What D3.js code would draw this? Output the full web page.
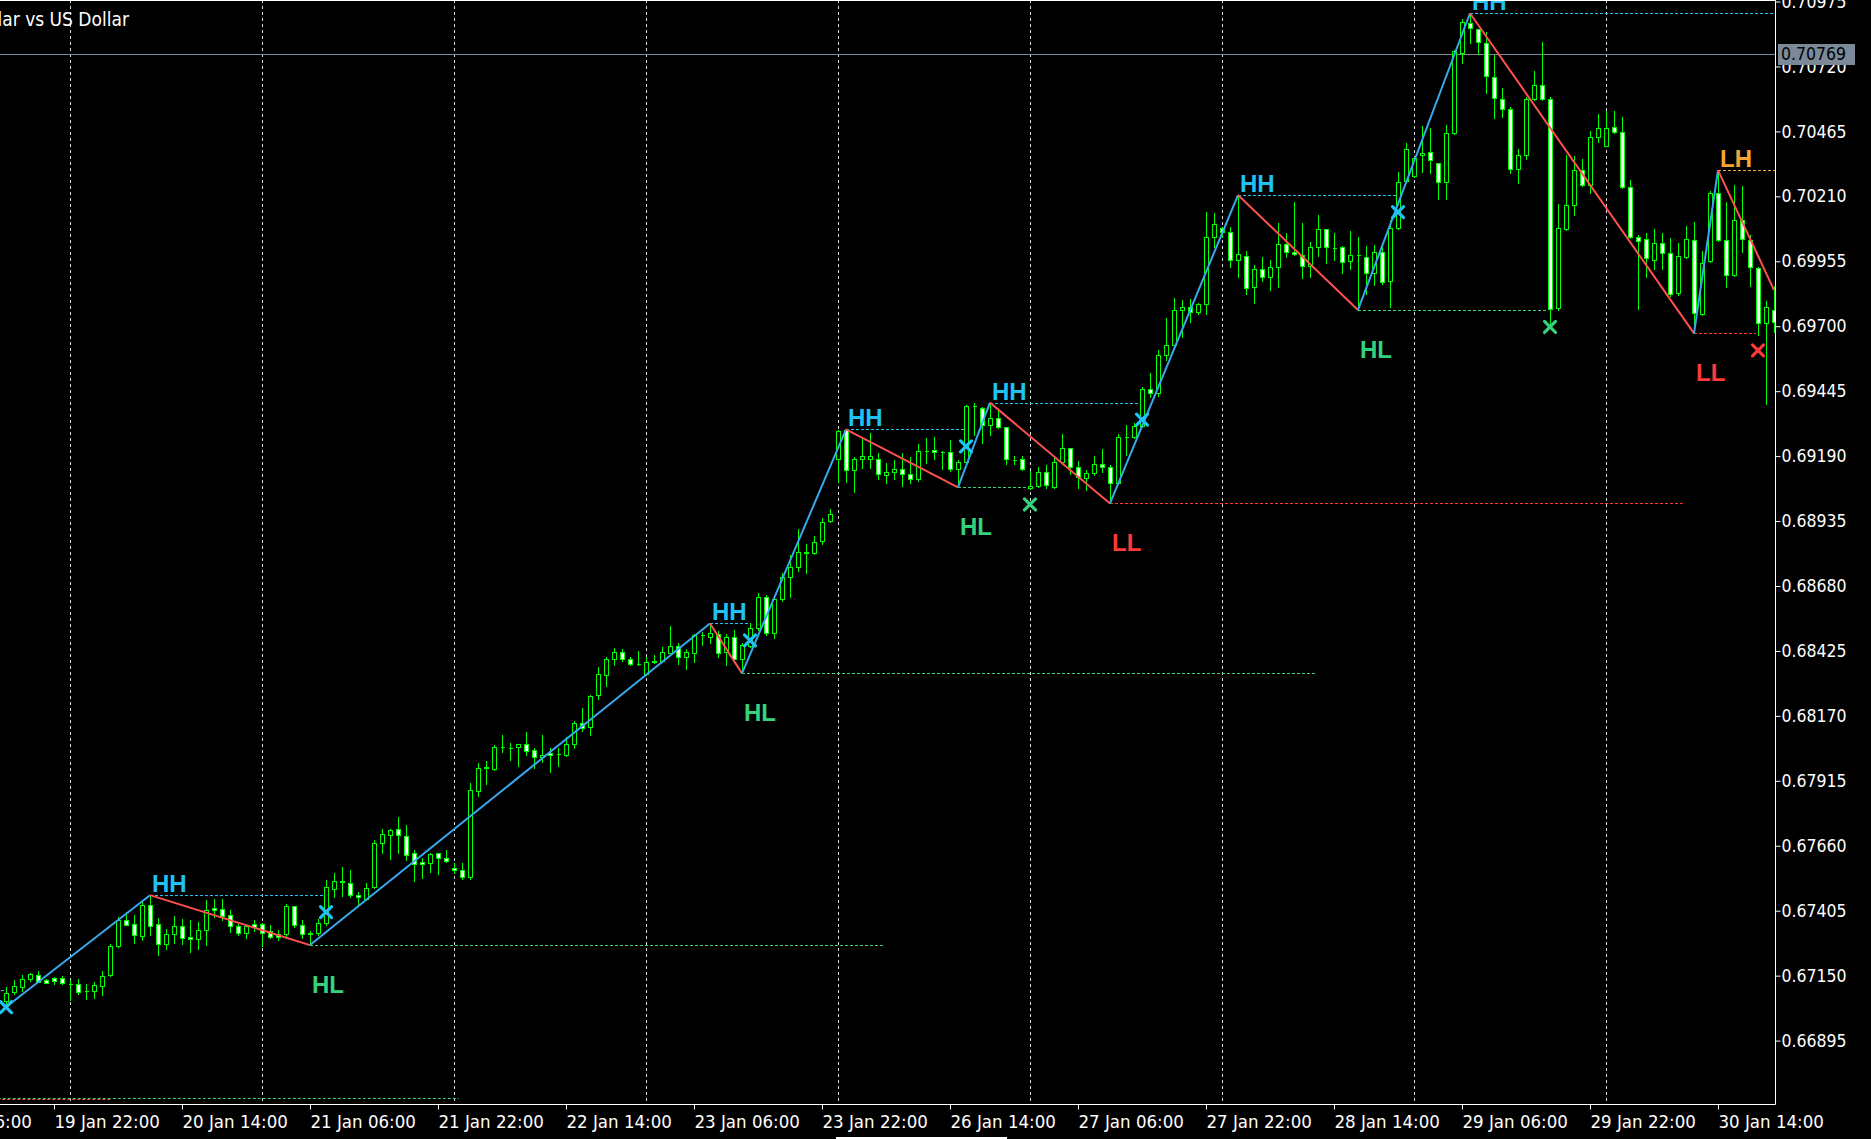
<!DOCTYPE html>
<html><head><meta charset="utf-8">
<script src="https://cdn.jsdelivr.net/npm/d3@7"></script>
<style>html,body{margin:0;padding:0;background:#000;overflow:hidden}</style>
</head><body>
<svg id="chart" width="1871" height="1139"></svg>
<script>
const titleText = "Australian Dollar vs US Dollar";
const firstBar = "2026-01-19T16:00:00Z";   // H1 bars
const opens = [
0.67051,0.67086,0.67106,0.67137,0.67153,0.67134,0.67142,0.67142,0.67117,0.67116,
0.67091,0.67090,0.67111,0.67153,0.67268,0.67370,0.67354,0.67307,0.67429,0.67354,
0.67276,0.67315,0.67346,0.67303,0.67294,0.67331,0.67417,0.67413,0.67390,0.67343,
0.67319,0.67354,0.67354,0.67327,0.67315,0.67315,0.67422,0.67350,0.67317,0.67316,
0.67355,0.67491,0.67519,0.67512,0.67465,0.67451,0.67497,0.67669,0.67701,0.67724,
0.67697,0.67630,0.67595,0.67593,0.67630,0.67610,0.67572,0.67563,0.67538,0.67876,
0.67966,0.67960,0.68048,0.68044,0.68046,0.68058,0.68035,0.68007,0.68023,0.68021,
0.68015,0.68058,0.68141,0.68125,0.68251,0.68329,0.68392,0.68419,0.68392,0.68374,
0.68334,0.68380,0.68385,0.68418,0.68443,0.68402,0.68418,0.68486,0.68481,0.68491,
0.68422,0.68478,0.68392,0.68446,0.68514,0.68638,0.68494,0.68630,0.68717,0.68756,
0.68815,0.68808,0.68858,0.68934,0.69177,0.69293,0.69136,0.69180,0.69180,0.69177,
0.69117,0.69126,0.69138,0.69118,0.69101,0.69209,0.69214,0.69207,0.69205,0.69140,
0.69167,0.69387,0.69377,0.69311,0.69338,0.69303,0.69176,0.69177,0.69063,0.69074,
0.69126,0.69070,0.69165,0.69220,0.69146,0.69106,0.69122,0.69161,0.69148,0.69083,
0.69266,0.69264,0.69308,0.69452,0.69436,0.69587,0.69626,0.69764,0.69777,0.69757,
0.69787,0.70049,0.70087,0.70069,0.69960,0.69977,0.69853,0.69926,0.69894,0.69931,
0.70021,0.69990,0.69978,0.69938,0.70012,0.70080,0.70009,0.70012,0.69955,0.69980,
0.69973,0.69908,0.69993,0.69877,0.70084,0.70272,0.70291,0.70372,0.70385,0.70340,
0.70268,0.70457,0.70774,0.70889,0.70866,0.70811,0.70680,0.70594,0.70552,0.70316,
0.70374,0.70591,0.70648,0.70591,0.69770,0.70080,0.70176,0.70313,0.70254,0.70444,
0.70409,0.70481,0.70464,0.70245,0.70052,0.70044,0.69962,0.70025,0.69986,0.69829,
0.69970,0.70038,0.69750,0.69957,0.70224,0.70038,0.69901,0.70117,0.70038,0.69927,
0.69714,0.69764];
const highs = [
0.67106,0.67132,0.67151,0.67160,0.67167,0.67138,0.67145,0.67147,0.67132,0.67138,
0.67119,0.67125,0.67167,0.67276,0.67381,0.67400,0.67387,0.67439,0.67466,0.67378,
0.67335,0.67383,0.67374,0.67370,0.67361,0.67446,0.67449,0.67449,0.67409,0.67354,
0.67354,0.67370,0.67357,0.67348,0.67328,0.67433,0.67424,0.67370,0.67326,0.67371,
0.67525,0.67552,0.67578,0.67565,0.67478,0.67512,0.67682,0.67724,0.67724,0.67771,
0.67740,0.67643,0.67610,0.67633,0.67632,0.67643,0.67591,0.67591,0.67908,0.67984,
0.67993,0.68054,0.68095,0.68062,0.68059,0.68107,0.68042,0.68095,0.68042,0.68042,
0.68088,0.68151,0.68202,0.68252,0.68363,0.68400,0.68438,0.68431,0.68400,0.68426,
0.68400,0.68408,0.68442,0.68523,0.68455,0.68431,0.68491,0.68501,0.68533,0.68505,
0.68491,0.68507,0.68455,0.68533,0.68651,0.68645,0.68631,0.68732,0.68802,0.68902,
0.68845,0.68876,0.68946,0.68981,0.69293,0.69295,0.69188,0.69256,0.69282,0.69204,
0.69162,0.69174,0.69201,0.69185,0.69237,0.69260,0.69264,0.69210,0.69253,0.69174,
0.69392,0.69397,0.69381,0.69400,0.69371,0.69305,0.69190,0.69190,0.69133,0.69148,
0.69157,0.69190,0.69277,0.69222,0.69172,0.69135,0.69190,0.69216,0.69157,0.69277,
0.69312,0.69319,0.69463,0.69518,0.69606,0.69731,0.69809,0.69803,0.69805,0.69790,
0.70148,0.70143,0.70089,0.70091,0.70215,0.69997,0.69940,0.69970,0.69960,0.70104,
0.70067,0.70186,0.70104,0.70032,0.70137,0.70082,0.70065,0.70016,0.70075,0.70049,
0.70015,0.70019,0.70019,0.70117,0.70307,0.70418,0.70366,0.70486,0.70480,0.70342,
0.70490,0.70783,0.70905,0.70929,0.70868,0.70857,0.70765,0.70634,0.70560,0.70394,
0.70601,0.70702,0.70817,0.70601,0.70180,0.70372,0.70368,0.70355,0.70468,0.70533,
0.70546,0.70546,0.70523,0.70274,0.70058,0.70067,0.70080,0.70065,0.70045,0.70025,
0.70093,0.70110,0.69997,0.70232,0.70313,0.70189,0.70254,0.70250,0.70058,0.69934,
0.69799,0.69858];
const lows = [
0.67027,0.67079,0.67090,0.67129,0.67124,0.67121,0.67116,0.67116,0.67053,0.67079,
0.67060,0.67062,0.67073,0.67150,0.67263,0.67348,0.67278,0.67289,0.67309,0.67231,
0.67256,0.67278,0.67276,0.67243,0.67256,0.67269,0.67381,0.67370,0.67322,0.67309,
0.67299,0.67324,0.67265,0.67299,0.67289,0.67299,0.67341,0.67299,0.67270,0.67309,
0.67349,0.67460,0.67463,0.67460,0.67427,0.67447,0.67493,0.67630,0.67609,0.67633,
0.67606,0.67523,0.67534,0.67557,0.67549,0.67596,0.67554,0.67531,0.67531,0.67855,
0.67902,0.67957,0.68029,0.67997,0.67973,0.68016,0.67964,0.67990,0.67951,0.67974,
0.68012,0.68045,0.68112,0.68096,0.68238,0.68287,0.68370,0.68385,0.68368,0.68370,
0.68330,0.68376,0.68381,0.68415,0.68374,0.68355,0.68381,0.68448,0.68455,0.68402,
0.68370,0.68387,0.68337,0.68442,0.68507,0.68487,0.68477,0.68622,0.68638,0.68739,
0.68730,0.68806,0.68845,0.68931,0.69090,0.69090,0.69050,0.69142,0.69142,0.69099,
0.69086,0.69101,0.69074,0.69083,0.69093,0.69164,0.69177,0.69139,0.69133,0.69067,
0.69161,0.69273,0.69243,0.69273,0.69299,0.69159,0.69159,0.69135,0.69062,0.69070,
0.69063,0.69063,0.69159,0.69118,0.69063,0.69057,0.69116,0.69129,0.69004,0.69079,
0.69194,0.69260,0.69306,0.69423,0.69425,0.69567,0.69610,0.69659,0.69718,0.69750,
0.69750,0.70010,0.70052,0.69934,0.69892,0.69826,0.69790,0.69879,0.69842,0.69855,
0.69973,0.69980,0.69888,0.69892,0.69976,0.69947,0.69960,0.69910,0.69926,0.69764,
0.69826,0.69862,0.69866,0.69777,0.70080,0.70268,0.70287,0.70307,0.70300,0.70198,
0.70198,0.70455,0.70732,0.70813,0.70768,0.70617,0.70516,0.70520,0.70303,0.70261,
0.70355,0.70588,0.70589,0.69714,0.69764,0.70078,0.70137,0.70250,0.70224,0.70425,
0.70408,0.70460,0.70244,0.70045,0.69766,0.69892,0.69923,0.69923,0.69818,0.69822,
0.69966,0.69672,0.69744,0.69953,0.70036,0.69853,0.69897,0.69993,0.69858,0.69665,
0.69394,0.69678];
const closes = [
0.67082,0.67108,0.67138,0.67158,0.67126,0.67123,0.67129,0.67123,0.67119,0.67087,
0.67089,0.67112,0.67150,0.67265,0.67370,0.67350,0.67310,0.67429,0.67346,0.67276,
0.67312,0.67346,0.67299,0.67294,0.67331,0.67409,0.67409,0.67384,0.67343,0.67319,
0.67344,0.67341,0.67319,0.67303,0.67303,0.67422,0.67349,0.67315,0.67315,0.67355,
0.67497,0.67521,0.67520,0.67465,0.67457,0.67493,0.67669,0.67705,0.67722,0.67701,
0.67625,0.67587,0.67587,0.67627,0.67610,0.67599,0.67563,0.67536,0.67879,0.67964,
0.67968,0.68048,0.68049,0.68045,0.68058,0.68033,0.68007,0.68015,0.68015,0.68022,
0.68060,0.68141,0.68124,0.68248,0.68333,0.68392,0.68420,0.68392,0.68374,0.68373,
0.68380,0.68387,0.68419,0.68443,0.68400,0.68422,0.68486,0.68487,0.68494,0.68418,
0.68478,0.68392,0.68447,0.68514,0.68638,0.68494,0.68628,0.68717,0.68756,0.68815,
0.68808,0.68854,0.68933,0.68961,0.69287,0.69136,0.69180,0.69189,0.69189,0.69120,
0.69126,0.69138,0.69118,0.69099,0.69209,0.69211,0.69205,0.69206,0.69140,0.69165,
0.69387,0.69388,0.69311,0.69338,0.69303,0.69177,0.69175,0.69138,0.69072,0.69126,
0.69075,0.69165,0.69220,0.69146,0.69109,0.69122,0.69161,0.69146,0.69083,0.69264,
0.69267,0.69308,0.69452,0.69436,0.69587,0.69626,0.69764,0.69774,0.69757,0.69787,
0.70052,0.70100,0.70069,0.69960,0.69982,0.69849,0.69923,0.69892,0.69931,0.70021,
0.69990,0.69982,0.69938,0.70012,0.70080,0.70010,0.70008,0.69951,0.69978,0.69979,
0.69908,0.69993,0.69874,0.70087,0.70268,0.70394,0.70362,0.70381,0.70353,0.70268,
0.70457,0.70781,0.70893,0.70870,0.70817,0.70683,0.70595,0.70552,0.70316,0.70371,
0.70591,0.70646,0.70591,0.69766,0.70084,0.70178,0.70313,0.70254,0.70444,0.70477,
0.70477,0.70463,0.70245,0.70049,0.70034,0.69966,0.70025,0.69986,0.69826,0.69976,
0.70041,0.69753,0.69949,0.70222,0.70038,0.69901,0.70117,0.70044,0.69931,0.69711,
0.69774,0.69718];

const priceTicks = [0.66895,0.67150,0.67405,0.67660,0.67915,0.68170,0.68425,0.68680,
  0.68935,0.69190,0.69445,0.69700,0.69955,0.70210,0.70465,0.70720,0.70975];
const timeLabels = ["19 Jan 06:00","19 Jan 22:00","20 Jan 14:00","21 Jan 06:00","21 Jan 22:00",
  "22 Jan 14:00","23 Jan 06:00","23 Jan 22:00","26 Jan 14:00","27 Jan 06:00","27 Jan 22:00",
  "28 Jan 14:00","29 Jan 06:00","29 Jan 22:00","30 Jan 14:00"];
const bidPrice = 0.70769;

// zigzag swing points (bar index, price, label)
const zzIndex = [0,18,38,88,92,105,119,123,138,154,169,183,211,214,221];
const zzPrice = [0.67027,0.67466,0.67270,0.68533,0.68337,0.69295,0.69067,0.69400,0.69004,
  0.70215,0.69764,0.70929,0.69672,0.70313,0.69842];
const zzLabel = ["","HH","HL","HH","HL","HH","HL","HH","LL","HH","HL","HH","LL","LH",""];

// structure levels (dotted) and their breaks
const levelKind  = ["HH","HH","HL","HH","HL","HH","HL","HH","LL","HH","HL","HH","LL","LH","HL","LL"];
const levelPrice = [0.67093,0.67466,0.67270,0.68533,0.68337,0.69295,0.69067,0.69400,0.69004,
  0.70215,0.69764,0.70929,0.69672,0.70313,0.66671,0.66664];
const levelFrom  = [-5,18,38,88,92,105,119,123,138,154,169,183,211,214,-15.4,-58.6];
const levelTo    = [-0.25,39.75,109.6,92.75,163.6,119.75,127.75,141.75,209.6,173.75,192.75,254.6,218.75,285.6,56.6,13];
const levelBreak = [0,40,null,93,null,120,128,142,null,174,193,null,219,null,null,null];

// ---------- layout ----------
const W = 1871, H = 1139, plotR = 1775, plotB = 1104;
const kindColor = {HH:"#1ec3f4", HL:"#35d27c", LL:"#ff3838", LH:"#f7a331"};
const upColor = "#38a9ef", downColor = "#ff5050";
const axisFont = "'DejaVu Sans Condensed','DejaVu Sans',sans-serif";

const svg = d3.select("#chart");
svg.append("rect").attr("width", W).attr("height", H).attr("fill", "#000");

const n = opens.length;
const x = d3.scaleLinear().domain([0, n - 1]).range([6, 1774]);
const y = d3.scaleLinear().domain([0.66646, 0.70981]).range([plotB, 0]);

svg.append("clipPath").attr("id", "plot").append("rect")
  .attr("x", 0).attr("y", 0).attr("width", plotR).attr("height", plotB);

// bar times
const startMs = Date.parse(firstBar);
function timeAt(i) {
  let t = startMs, k = 0;
  const step = i < 0 ? -1 : 1;
  while (k !== i) {
    t += step * 3600e3;
    const wd = new Date(t).getUTCDay();
    if (wd === 0 || wd === 6) continue;
    k += step;
  }
  return new Date(t);
}
const fmt = d3.utcFormat("%-d %b %H:%M");
const labelIndex = {};
for (let i = -20; i < n; i++) labelIndex[fmt(timeAt(i))] = i;
const dayStarts = d3.range(n).filter(i => timeAt(i).getUTCHours() === 0);

const plot = svg.append("g").attr("clip-path", "url(#plot)");

// vertical day grid
plot.append("g").selectAll("line").data(dayStarts).join("line")
  .attr("x1", d => Math.round(x(d)) + 0.5).attr("x2", d => Math.round(x(d)) + 0.5)
  .attr("y1", 0).attr("y2", plotB - 3)
  .attr("stroke", "#d8d8d8").attr("stroke-width", 1).attr("stroke-dasharray", "3,3");

// bid line
plot.append("line").attr("x1", 0).attr("x2", plotR)
  .attr("y1", Math.round(y(bidPrice)) + 0.5).attr("y2", Math.round(y(bidPrice)) + 0.5)
  .attr("stroke", "#7b8998").attr("stroke-width", 1);

// dotted structure levels
plot.append("g").selectAll("line").data(d3.range(levelKind.length)).join("line")
  .attr("x1", i => x(levelFrom[i])).attr("x2", i => x(levelTo[i]))
  .attr("y1", i => Math.round(y(levelPrice[i])) + 0.5).attr("y2", i => Math.round(y(levelPrice[i])) + 0.5)
  .attr("stroke", i => kindColor[levelKind[i]]).attr("stroke-width", 1)
  .attr("stroke-dasharray", "3,2");

// candles
const cg = plot.append("g").attr("shape-rendering", "crispEdges");
const idx = d3.range(n);
cg.selectAll("line.wick").data(idx).join("line").attr("class", "wick")
  .attr("x1", i => Math.round(x(i)) + 0.5).attr("x2", i => Math.round(x(i)) + 0.5)
  .attr("y1", i => Math.round(y(highs[i]))).attr("y2", i => Math.round(y(lows[i])) + 1)
  .attr("stroke", "#00ff00").attr("stroke-width", 1);
cg.selectAll("path.body").data(idx).join("path").attr("class", "body")
  .attr("d", i => {
    const cx = Math.round(x(i));
    const top = Math.round(y(Math.max(opens[i], closes[i])));
    const bot = Math.round(y(Math.min(opens[i], closes[i])));
    return `M${cx - 1.5},${top + 0.5}h4v${Math.max(bot - top, 0)}h-4Z`;
  })
  .attr("fill", i => closes[i] < opens[i] ? "#ffffff" : "#000000")
  .attr("stroke", "#00ff00").attr("stroke-width", 1);

// zigzag
const zg = plot.append("g");
for (let s = 0; s < zzIndex.length - 1; s++) {
  const up = zzPrice[s + 1] > zzPrice[s];
  zg.append("line")
    .attr("x1", x(zzIndex[s])).attr("y1", y(zzPrice[s]))
    .attr("x2", x(zzIndex[s + 1])).attr("y2", y(zzPrice[s + 1]))
    .attr("stroke", up ? upColor : downColor).attr("stroke-width", 2);
}

// swing labels
zzLabel.forEach((lab, s) => {
  if (!lab) return;
  const above = lab === "HH" || lab === "LH";
  plot.append("text")
    .attr("x", x(zzIndex[s]) + 2)
    .attr("y", y(zzPrice[s]) + (above ? -3 : 48))
    .attr("fill", kindColor[lab])
    .attr("font-family", "'Liberation Sans',Arial,sans-serif")
    .attr("font-weight", "bold").attr("font-size", 24)
    .text(lab);
});

// break markers
levelBreak.forEach((b, i) => {
  if (b === null) return;
  const cx = x(b), cy = y(levelPrice[i]) + 17;
  plot.append("path")
    .attr("d", `M${cx - 5.5},${cy - 5.5}L${cx + 5.5},${cy + 5.5}M${cx + 5.5},${cy - 5.5}L${cx - 5.5},${cy + 5.5}`)
    .attr("stroke", kindColor[levelKind[i]]).attr("stroke-width", 3.2).attr("stroke-linecap", "round");
});

// title
svg.append("text").attr("x", 129).attr("y", 26).attr("text-anchor", "end")
  .attr("fill", "#ffffff").attr("font-family", axisFont).attr("font-size", 19)
  .text(titleText);

// frame
svg.append("line").attr("x1", 0).attr("x2", plotR + 0.5).attr("y1", 0.5).attr("y2", 0.5).attr("stroke", "#fff");
svg.append("line").attr("x1", 0).attr("x2", plotR + 0.5).attr("y1", plotB + 0.5).attr("y2", plotB + 0.5).attr("stroke", "#fff");
svg.append("line").attr("x1", plotR + 0.5).attr("x2", plotR + 0.5).attr("y1", 0).attr("y2", plotB + 0.5).attr("stroke", "#fff");

// price axis
const yAxis = svg.append("g").attr("transform", `translate(${plotR + 0.5},0)`)
  .call(d3.axisRight(y).tickValues(priceTicks).tickFormat(d3.format(".5f"))
    .tickSize(5).tickPadding(1).tickSizeOuter(0));
yAxis.select(".domain").remove();
yAxis.selectAll("line").attr("stroke", "#fff");
yAxis.selectAll("text").attr("fill", "#fff").attr("font-family", axisFont).attr("font-size", 17.5);

// time axis
const tickIdx = timeLabels.map(l => labelIndex[l]);
const xAxis = svg.append("g").attr("transform", `translate(0,${plotB + 0.5})`)
  .call(d3.axisBottom(x).tickValues(tickIdx).tickFormat((d, i) => timeLabels[i])
    .tickSize(5).tickPadding(5).tickSizeOuter(0));
xAxis.select(".domain").remove();
xAxis.selectAll("line").attr("stroke", "#fff");
xAxis.selectAll("text").attr("fill", "#fff").attr("font-family", axisFont).attr("font-size", 18.5)
  .attr("text-anchor", "start").attr("x", 0);

// bid price label
const by = y(bidPrice);
svg.append("rect").attr("x", plotR + 3).attr("y", Math.round(by) - 10).attr("width", 77).attr("height", 21)
  .attr("fill", "#7b8998");
svg.append("text").attr("x", plotR + 6).attr("y", by).attr("dy", "0.36em")
  .attr("fill", "#000").attr("font-family", axisFont).attr("font-size", 17.5).text(d3.format(".5f")(bidPrice));

// bottom tab strip
svg.append("rect").attr("x", 836).attr("y", 1137).attr("width", 171).attr("height", 2).attr("fill", "#fff");
</script>
</body></html>
